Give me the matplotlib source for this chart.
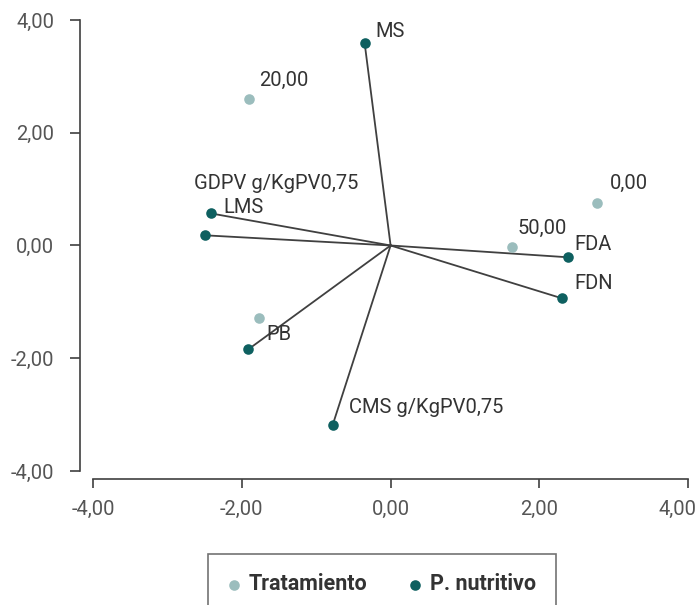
import matplotlib
matplotlib.use("Agg")
import matplotlib.pyplot as plt
import matplotlib.transforms as mtransforms

plt.rcParams['font.family'] = ['Roboto', 'DejaVu Sans']

# Tratamiento (treatment scores)
trat_x = [-1.90, 2.77, 1.63, -1.77]
trat_y = [2.59, 0.76, -0.02, -1.29]
trat_labels = ["20,00", "0,00", "50,00", ""]

# P. nutritivo (variable loadings)
nut_x = [-0.35, -2.42, -2.49, 2.39, 2.31, -1.91, -0.78]
nut_y = [3.60, 0.57, 0.18, -0.21, -0.94, -1.84, -3.19]
nut_labels = ["MS", "LMS", "GDPV g/KgPV0,75", "FDA", "FDN", "PB", "CMS g/KgPV0,75"]

ticks = [-4, -2, 0, 2, 4]
tick_labels = ["-4,00", "-2,00", "0,00", "2,00", "4,00"]

# label offsets in points (layout only)
trat_off = [(7, 13.7), (9.4, 13.7), (4.3, 13), (0, 0)]
nut_off = [(8, 8), (9.4, 4.3), (-8, 37.4), (4.3, 9.4), (8.6, 10.8), (13, 10.8), (11.5, 13)]

c_trat = "#9bbdbd"
c_nut = "#0e6060"
c_line = "#404040"
c_text = "#333333"
fs = 14.5

fig = plt.figure(figsize=(6.97, 6.05), dpi=100)
ax = fig.add_axes([0.1334, 0.2215, 0.854, 0.7455])

for x, y in zip(nut_x, nut_y):
    ax.plot([0, x], [0, y], color=c_line, lw=1.3, zorder=1)

ax.scatter(trat_x, trat_y, s=58, color=c_trat, zorder=3, label="Tratamiento", linewidths=0)
ax.scatter(nut_x, nut_y, s=58, color=c_nut, zorder=3, label="P. nutritivo", linewidths=0)

for x, y, t, o in zip(trat_x, trat_y, trat_labels, trat_off):
    if t:
        ax.annotate(t, (x, y), xytext=o, textcoords="offset points",
                    fontsize=fs, color=c_text, ha="left", va="center")
for x, y, t, o in zip(nut_x, nut_y, nut_labels, nut_off):
    ax.annotate(t, (x, y), xytext=o, textcoords="offset points",
                fontsize=fs, color=c_text, ha="left", va="center")

ax.set_xlim(-4, 4)
ax.set_ylim(-4, 4)
ax.set_xticks(ticks)
ax.set_xticklabels(tick_labels)
ax.set_yticks(ticks)
ax.set_yticklabels(tick_labels)

ax.spines["top"].set_visible(False)
ax.spines["right"].set_visible(False)
ax.spines["left"].set_position(("outward", 9.5))
ax.spines["bottom"].set_position(("outward", 6))
for s in ["left", "bottom"]:
    ax.spines[s].set_color(c_line)
    ax.spines[s].set_linewidth(1.2)
ax.tick_params(axis="y", length=7.5, width=1.2, color=c_line, pad=11,
               labelsize=fs, labelcolor="#555555")
ax.tick_params(axis="x", length=6.5, width=1.2, color=c_line, pad=8,
               labelsize=fs, labelcolor="#555555")

# last x label pulled inside the figure like the original
last = ax.xaxis.get_major_ticks()[-1].label1
last.set_horizontalalignment("right")
last.set_transform(last.get_transform() +
                   mtransforms.ScaledTranslation(6 / 72, 0, fig.dpi_scale_trans))

leg = fig.legend(loc="upper center", bbox_to_anchor=(0.548, 0.0843), ncol=2,
                 frameon=True, fancybox=False, borderpad=0.9, borderaxespad=0,
                 handlelength=0.6, handletextpad=0.4, columnspacing=1.9,
                 prop={"weight": "bold", "size": 15.5})
leg.get_frame().set_edgecolor("#505050")
leg.get_frame().set_linewidth(1.2)
for t in leg.get_texts():
    t.set_color("#333333")

fig.savefig("out.png", dpi=100)
